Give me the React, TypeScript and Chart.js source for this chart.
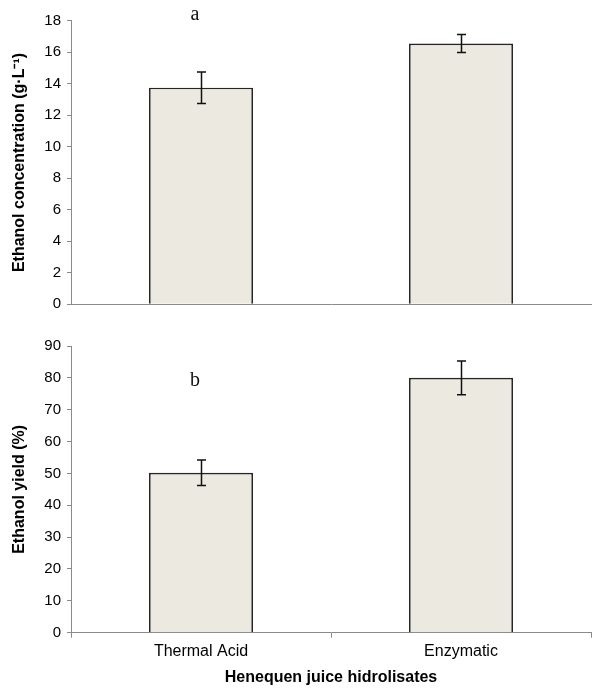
import React, { useEffect, useRef } from "react";
import { Chart, registerables } from "chart.js";

Chart.register(...registerables);

const categories = ["Thermal Acid", "Enzymatic"];
const concentration = [13.75, 16.55];
const concentrationErr = [1.0, 0.57];
const yieldValues = [50.2, 80.0];
const yieldErr = [4.0, 5.3];
const concAxis = { min: 0, max: 18, step: 2 };
const yieldAxis = { min: 0, max: 90, step: 10 };
const xTitle = "Henequen juice hidrolisates";
const concTitle = "Ethanol concentration (g·L⁻¹)";
const yieldTitle = "Ethanol yield (%)";

const BAR_FILL = "#ECEAE0";
const BAR_BORDER = "#262626";
const AXIS_GRAY = "#8a8a8a";
const SANS = "'Liberation Sans', Arial, sans-serif";

const errorBarPlugin = {
  id: "errorBars",
  afterDatasetsDraw(chart: any, _args: any, opts: any) {
    const errs: number[] = opts.errors || [];
    const meta = chart.getDatasetMeta(0);
    const ys = chart.scales.y;
    const data = chart.data.datasets[0].data as number[];
    const ctx = chart.ctx;
    ctx.save();
    ctx.strokeStyle = "#111";
    ctx.lineWidth = 1.5;
    meta.data.forEach((bar: any, i: number) => {
      const v = data[i];
      const e = errs[i];
      const x = Math.round(bar.x) + 0.5;
      const t = ys.getPixelForValue(v + e);
      const b = ys.getPixelForValue(v - e);
      ctx.beginPath();
      ctx.moveTo(x, t);
      ctx.lineTo(x, b);
      ctx.moveTo(x - 4.5, t);
      ctx.lineTo(x + 4.5, t);
      ctx.moveTo(x - 4.5, b);
      ctx.lineTo(x + 4.5, b);
      ctx.stroke();
    });
    ctx.restore();
  },
};

const panelLabelPlugin = {
  id: "panelLabel",
  afterDraw(chart: any, _args: any, opts: any) {
    if (!opts.text) return;
    const ctx = chart.ctx;
    const x = chart.scales.x.getPixelForValue(opts.index) + (opts.dx || 0);
    const y = chart.scales.y.getPixelForValue(opts.value);
    ctx.save();
    ctx.font = "20px 'Liberation Serif', 'Times New Roman', serif";
    ctx.fillStyle = "#111";
    ctx.textAlign = "center";
    ctx.textBaseline = "alphabetic";
    ctx.fillText(opts.text, x, y);
    ctx.restore();
  },
};

type PanelProps = {
  width: number;
  height: number;
  values: number[];
  errors: number[];
  axis: { min: number; max: number; step: number };
  yTitle: string;
  showX: boolean;
  padTop: number;
  xHeight: number;
  label: string;
  labelValue: number;
};

function Panel(p: PanelProps) {
  const ref = useRef<HTMLCanvasElement>(null);
  useEffect(() => {
    if (!ref.current) return;
    const chart = new Chart(ref.current, {
      type: "bar",
      data: {
        labels: categories,
        datasets: [
          {
            data: p.values,
            backgroundColor: BAR_FILL,
            borderColor: BAR_BORDER,
            borderWidth: 1.7,
            categoryPercentage: 1,
            barPercentage: 0.4,
          },
        ],
      },
      options: {
        responsive: false,
        animation: false,
        layout: { padding: { top: p.padTop, right: 9, left: 0, bottom: 0 } },
        plugins: {
          legend: { display: false },
          tooltip: { enabled: false },
          errorBars: { errors: p.errors },
          panelLabel: { text: p.label, index: 0, value: p.labelValue, dx: -6 },
        } as any,
        scales: {
          x: {
            afterFit: (s: any) => {
              s.height = p.xHeight;
            },
            grid: {
              display: p.showX,
              drawOnChartArea: false,
              tickLength: 5,
              color: AXIS_GRAY,
            },
            border: { display: true, color: AXIS_GRAY, width: 1 },
            ticks: {
              display: p.showX,
              color: "#000",
              font: { family: SANS, size: 16 },
              padding: 4,
            },
            title: {
              display: p.showX,
              text: xTitle,
              color: "#000",
              font: { family: SANS, size: 16, weight: "bold" },
              padding: { top: 0, bottom: 8 },
            },
          },
          y: {
            min: p.axis.min,
            max: p.axis.max,
            afterFit: (s: any) => {
              s.width = 71;
            },
            ticks: {
              stepSize: p.axis.step,
              color: "#000",
              font: { family: SANS, size: 15 },
              padding: 6,
            },
            grid: {
              drawOnChartArea: false,
              tickLength: 4,
              color: AXIS_GRAY,
            },
            border: { display: true, color: AXIS_GRAY, width: 1 },
            title: {
              display: true,
              text: p.yTitle,
              color: "#000",
              font: { family: SANS, size: 16, weight: "bold" },
              padding: { top: 10, bottom: 0 },
            },
          },
        },
      },
      plugins: [errorBarPlugin, panelLabelPlugin],
    });
    return () => chart.destroy();
  }, []);
  return <canvas ref={ref} width={p.width} height={p.height} style={{ display: "block" }} />;
}

export default function App() {
  return (
    <div
      style={{
        position: "absolute",
        left: 0,
        top: 0,
        width: 600,
        height: 695,
        background: "#ffffff",
      }}
    >
      <Panel
        width={600}
        height={320}
        values={concentration}
        errors={concentrationErr}
        axis={concAxis}
        yTitle={concTitle}
        showX={false}
        padTop={20.7}
        xHeight={15.7}
        label="a"
        labelValue={18.04}
      />
      <Panel
        width={600}
        height={375}
        values={yieldValues}
        errors={yieldErr}
        axis={yieldAxis}
        yTitle={yieldTitle}
        showX={true}
        padTop={26}
        xHeight={62.3}
        label="b"
        labelValue={77.4}
      />
    </div>
  );
}
